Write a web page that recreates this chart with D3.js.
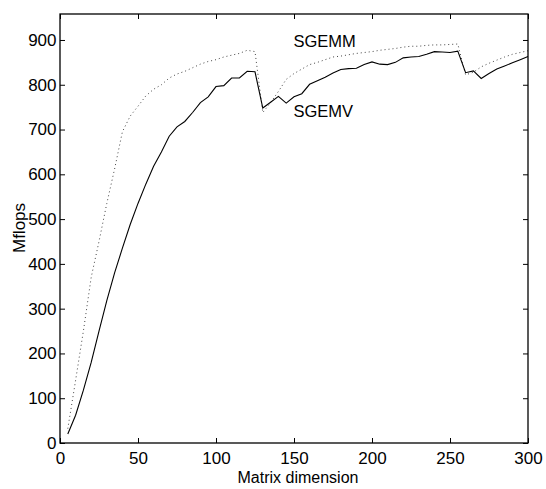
<!DOCTYPE html>
<html><head><meta charset="utf-8">
<script src="https://cdn.jsdelivr.net/npm/d3@7"></script>
<style>body{margin:0;background:#fff}svg{display:block}text{font-family:Arial,"Liberation Sans",sans-serif;fill:#000}</style>
</head><body>
<svg id="c" width="546" height="489"></svg>
<script>
const sizes = [5,10,15,20,25,30,35,40,45,50,55,60,65,70,75,80,85,90,95,100,105,110,115,120,125,130,135,140,145,150,155,160,165,170,175,180,185,190,195,200,205,210,215,220,225,230,235,240,245,250,255,260,265,270,275,280,285,290,295,300];
const sgemv = [20,62,118,180,250,318,380,435,488,535,578,618,650,685,706,718,738,760,773,796,798,815,815,830,829,748,761,774,759,773,780,801,809,817,826,834,836,837,845,851,846,845,850,860,862,863,868,874,873,872,875,827,831,814,825,835,842,849,856,863];
const sgemm = [32,140,250,370,450,535,612,695,730,752,775,790,800,815,824,830,838,846,852,856,862,866,870,877,874,738,760,785,812,825,835,845,850,856,862,864,867,870,872,874,877,879,881,884,886,886,888,889,889,890,891,822,828,840,848,855,862,868,872,876];
const xTicks = [0,50,100,150,200,250,300];
const yTicks = [0,100,200,300,400,500,600,700,800,900];
const labels = [{text:"SGEMM", n:150, v:898}, {text:"SGEMV", n:150, v:742}];

const svg = d3.select("#c");
const L=60, R=528, T=14, B=443;
const x = d3.scaleLinear().domain([0,300]).range([L,R]);
const y = d3.scaleLinear().domain([0,958]).range([B,T]);

const line = d3.line().x((d,i)=>x(sizes[i])).y(d=>y(d));
svg.append("path").datum(sgemm).attr("d",line).attr("fill","none").attr("stroke","#444").attr("stroke-width",1).attr("stroke-dasharray","1,3");
svg.append("path").datum(sgemv).attr("d",line).attr("fill","none").attr("stroke","#000").attr("stroke-width",1.1);

svg.append("rect").attr("x",L).attr("y",T).attr("width",R-L).attr("height",B-T).attr("fill","none").attr("stroke","#000").attr("stroke-width",1.3);

const fs = 17;
const xb = svg.append("g").attr("transform",`translate(0,${B})`).call(d3.axisBottom(x).tickValues(xTicks).tickSizeInner(-5).tickSizeOuter(0).tickPadding(9));
const xt = svg.append("g").attr("transform",`translate(0,${T})`).call(d3.axisTop(x).tickValues(xTicks).tickSizeInner(-5).tickSizeOuter(0).tickFormat(""));
const yl = svg.append("g").attr("transform",`translate(${L},0)`).call(d3.axisLeft(y).tickValues(yTicks).tickSizeInner(-5).tickSizeOuter(0).tickPadding(3.5));
const yr = svg.append("g").attr("transform",`translate(${R},0)`).call(d3.axisRight(y).tickValues(yTicks).tickSizeInner(-5).tickSizeOuter(0).tickFormat(""));
[xb,xt,yl,yr].forEach(g=>{g.select(".domain").remove();g.selectAll("line").attr("stroke","#000");g.selectAll("text").attr("font-size",fs).attr("font-family","Arial, 'Liberation Sans', sans-serif").attr("fill","#000");});

svg.append("text").attr("x",298).attr("y",483).attr("text-anchor","middle").attr("font-size",16).text("Matrix dimension");
svg.append("text").attr("transform",`translate(25,228) rotate(-90)`).attr("text-anchor","middle").attr("font-size",17).text("Mflops");

svg.selectAll(".lbl").data(labels).enter().append("text").attr("class","lbl")
  .attr("x",d=>x(d.n)-0.5).attr("y",d=>y(d.v)).attr("font-size",16.5).attr("dy","0.35em").text(d=>d.text);
</script>
</body></html>
